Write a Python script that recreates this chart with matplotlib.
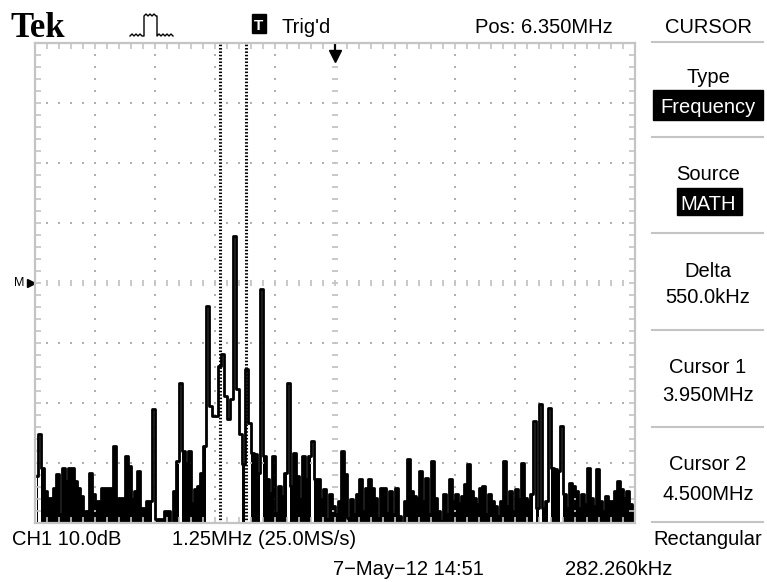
import numpy as np
import matplotlib.pyplot as plt
from matplotlib.lines import Line2D
from matplotlib.patches import Rectangle

# screen settings read from the scope display
f_start = 0.1       # MHz at left edge
f_div = 1.25        # MHz / div
db_div = 10.0       # dB / div
n_xdiv = 10
n_ydiv = 8
trig_pos = 6.35     # MHz
cursor1 = 3.95      # MHz
cursor2 = 4.50      # MHz

# FFT trace, 200 bins across the screen, level in dB above bottom graticule line
level = [
    7.8, 14.8, 9.2, 5.3, 4.2, 4.2, 5.8, 8.2, 1.5, 9.2,
    7.0, 9.2, 9.2, 7.0, 5.8, 4.5, 2.0, 2.0, 8.3, 4.8,
    3.7, 3.7, 5.8, 5.8, 5.8, 5.8, 12.8, 4.2, 4.2, 4.2,
    11.2, 9.5, 4.0, 5.3, 8.7, 2.5, 2.5, 3.7, 3.7, 19.0,
    0.7, 0.7, 0.7, 2.0, 2.0, 0.0, 5.3, 10.3, 23.3, 12.0,
    10.0, 12.0, 3.3, 5.7, 6.2, 8.3, 12.8, 36.2, 19.5, 17.8,
    17.8, 26.2, 28.2, 21.2, 17.3, 20.7, 47.8, 22.3, 14.8, 9.8,
    25.7, 16.7, 11.7, 11.5, 8.3, 39.0, 11.2, 7.3, 5.0, 11.2,
    1.7, 6.2, 4.5, 8.3, 23.3, 6.2, 11.7, 7.8, 4.0, 11.2,
    7.3, 11.2, 13.7, 7.3, 7.3, 4.0, 5.7, 0.7, 4.8, 2.8,
    1.5, 3.7, 12.0, 8.2, 0.8, 4.0, 1.5, 4.8, 7.3, 2.0,
    5.8, 7.3, 5.8, 4.2, 0.8, 5.8, 5.8, 1.7, 5.3, 1.5,
    5.8, 1.2, 0.0, 3.7, 10.7, 5.3, 4.5, 4.2, 8.7, 3.7,
    7.5, 1.5, 10.3, 4.2, 2.0, 0.3, 4.8, 1.5, 7.3, 3.7,
    4.8, 3.3, 4.5, 6.5, 9.8, 5.3, 4.2, 3.2, 5.8, 6.2,
    1.5, 4.8, 3.7, 2.8, 1.2, 3.7, 10.3, 2.8, 5.3, 2.0,
    5.7, 4.0, 10.0, 4.2, 3.7, 4.8, 17.0, 2.5, 19.8, 2.5,
    3.7, 19.2, 9.2, 9.0, 8.7, 16.2, 4.8, 2.5, 6.7, 6.2,
    5.3, 2.5, 4.8, 3.2, 9.2, 4.2, 2.8, 9.0, 3.7, 2.0,
    4.5, 3.7, 3.7, 5.3, 7.0, 5.7, 4.2, 5.3, 3.2, 2.8,
]

side_labels = ["Type", "Source", "Delta", "Cursor 1", "Cursor 2"]
side_values = ["Frequency", "MATH", "550.0kHz", "3.950MHz", "4.500MHz"]

W, H = 767, 582
GRAY = '#c4c4c4'
SANS = ['Liberation Sans', 'DejaVu Sans']
FS = 14.5


def fx(x):
    return x / W


def fy(y):
    return 1 - y / H


def label(x, y, s, **kw):
    kw.setdefault('fontsize', FS)
    kw.setdefault('family', SANS)
    fig.text(fx(x), fy(y), s, va='baseline', **kw)


def box(x0, y0, x1, y1):
    fig.add_artist(Rectangle((fx(x0), fy(y1)), (x1 - x0) / W, (y1 - y0) / H,
                             color='k', transform=fig.transFigure))


fig = plt.figure(figsize=(W / 100, H / 100), dpi=100)
fig.patch.set_facecolor('white')
ax = fig.add_axes([fx(35), fy(523), 600 / W, 480 / H])

f_end = f_start + n_xdiv * f_div
top = n_ydiv * db_div
ax.set_xlim(f_start, f_end)
ax.set_ylim(0, top)

level = np.array(level)
freqs = f_start + (np.arange(len(level)) + 0.5) * (f_end - f_start) / len(level)

# graticule
for s in ax.spines.values():
    s.set_color(GRAY)
    s.set_linewidth(1.6)
ax.set_xticks(f_start + np.arange(n_xdiv + 1) * f_div)
ax.set_xticks(f_start + np.arange(n_xdiv * 5 + 1) * f_div / 5, minor=True)
ax.set_yticks(np.arange(n_ydiv + 1) * db_div)
ax.set_yticks(np.arange(n_ydiv * 5 + 1) * db_div / 5, minor=True)
ax.tick_params(which='both', direction='in', length=4, width=1.2, color=GRAY,
               top=True, right=True, labelbottom=False, labelleft=False)

xmin = f_start + np.arange(1, n_xdiv * 5) * f_div / 5
ymin = np.arange(1, n_ydiv * 5) * db_div / 5
xc = f_start + n_xdiv / 2 * f_div
yc = n_ydiv / 2 * db_div
for k in range(1, n_xdiv):
    xv = f_start + k * f_div
    if np.isclose(xv, xc):
        continue
    ax.plot(np.full_like(ymin, xv), ymin, 's', ms=1.6, mew=0, color='#b0b0b0')
for k in range(1, n_ydiv):
    yv = k * db_div
    if np.isclose(yv, yc):
        continue
    ax.plot(xmin, np.full_like(xmin, yv), 's', ms=1.6, mew=0, color='#b0b0b0')
ax.plot(np.full_like(ymin, xc), ymin, '_', ms=5, mew=1.3, color=GRAY)
ax.plot(xmin, np.full_like(xmin, yc), '|', ms=5, mew=1.3, color=GRAY)

# spectrum trace: noise floor drawn solid, tall lines as outline
floor = np.where(level <= 13.0, level, 0.0)
ax.fill_between(freqs, 0, floor, step='mid', color='k', lw=0)
ax.plot(freqs, level, drawstyle='steps-mid', color='k', lw=2.0)

# cursors
for c in (cursor1, cursor2):
    ax.axvline(c, color='k', lw=2.2, linestyle=(0, (0.5, 0.6)))

# trigger position arrow
ax.plot([trig_pos, trig_pos], [top - 0.4, top - 2.2], color='k', lw=1.6, clip_on=False)
ax.plot([trig_pos], [top - 2.2], marker='v', ms=8, color='k', clip_on=False)

# M reference marker
ax.plot([-0.007], [yc], marker='>', ms=6, color='k',
        transform=ax.get_yaxis_transform(), clip_on=False)
ax.text(-0.017, yc, 'M', transform=ax.get_yaxis_transform(), ha='right', va='center',
        fontsize=9, family=SANS)

# top status line
label(10, 37, 'Tek', fontsize=25, fontweight='bold',
      family=['Liberation Serif', 'DejaVu Serif'])
px_ = [130, 132, 134, 136, 138, 140, 142, 144, 144, 146, 148, 150, 152, 154, 156, 157,
       157, 159, 161, 163, 165, 167, 169, 171, 173]
py_ = [36, 34, 36, 34, 36, 34, 36, 36, 16, 14, 16, 14, 16, 14, 16, 16,
       36, 34, 36, 34, 36, 34, 36, 34, 36]
fig.add_artist(Line2D([fx(v) for v in px_], [fy(v) for v in py_], color='k', lw=1.0,
                      transform=fig.transFigure))
box(252, 14, 266, 33)
label(259, 30, 'T', color='white', fontsize=11, fontweight='bold', ha='center')
label(281, 33, "Trig'd")
label(613, 33, 'Pos: 6.350MHz', ha='right')
label(708, 33, 'CURSOR', ha='center')

# side menu
for ysep in (42, 137, 233, 330, 427, 522):
    fig.add_artist(Line2D([fx(652), fx(763)], [fy(ysep), fy(ysep)], color=GRAY, lw=1.5,
                          transform=fig.transFigure))
box(653, 90, 763, 120)
box(677, 188, 742, 215)

label_y = [83, 180, 277, 373, 470]
value_y = [113, 210, 303, 401, 500]
for i, (lab, val) in enumerate(zip(side_labels, side_values)):
    label(708, label_y[i], lab, ha='center')
    label(708, value_y[i], val, ha='center', color='white' if i < 2 else 'k')
label(708, 545, 'Rectangular', ha='center')

# bottom status lines
label(12, 545, 'CH1 10.0dB')
label(172, 545, '1.25MHz (25.0MS/s)')
label(333, 575, '7\u2212May\u221212 14:51')
label(565, 575, '282.260kHz')

fig.savefig('out.png', dpi=100)
